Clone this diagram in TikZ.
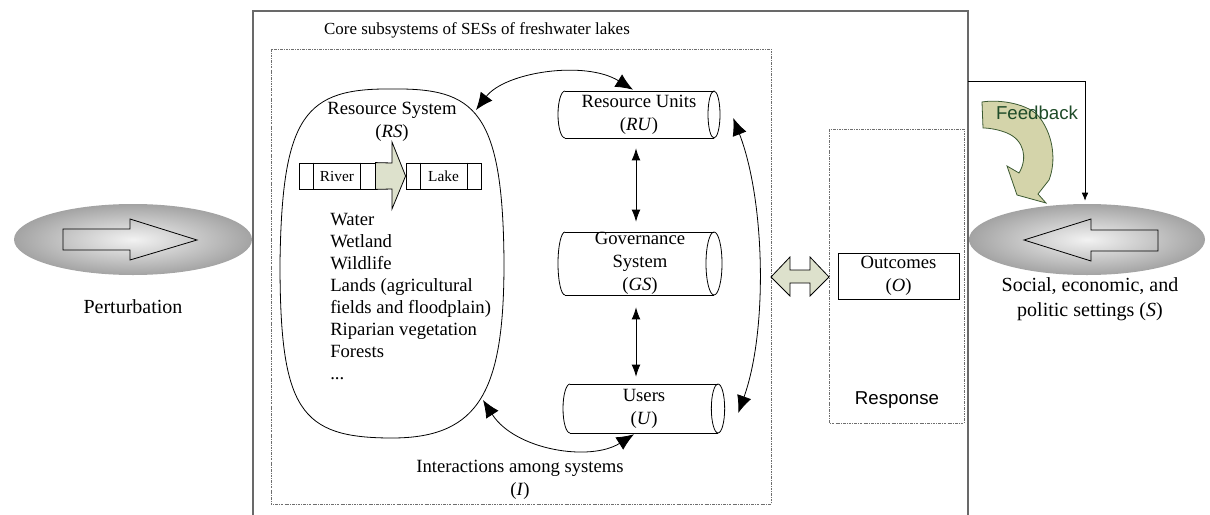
\documentclass[tikz,border=0pt]{standalone}
\usepackage{fontspec}
\setmainfont{Liberation Serif}
\newfontfamily\arialf{Liberation Sans}
\usetikzlibrary{shapes.geometric,arrows.meta,calc}
\definecolor{arrowgreen}{RGB}{221,225,204}
\definecolor{fbfill}{RGB}{212,212,170}
\definecolor{fbline}{RGB}{60,90,50}
\definecolor{fbtext}{RGB}{30,75,40}
\definecolor{framegray}{RGB}{105,105,105}
\definecolor{dotgray}{RGB}{110,110,110}
\begin{document}
\begin{tikzpicture}[x=0.75pt,y=-0.75pt,
  dotbox/.style={draw=dotgray, line width=0.6pt, dash pattern=on 2pt off 0.8pt on 0.6pt off 0.8pt},
  t14/.style={font=\fontsize{14}{17.25}\selectfont, align=center, inner sep=0pt},
  t15/.style={font=\fontsize{15}{18.75}\selectfont, align=center, inner sep=0pt},
  cylbody/.style={minimum width=#1, inner sep=0pt, font=\fontsize{14}{17.25}\selectfont, align=center},
  outline/.style={draw, line width=0.6pt},
  bigtip/.style={{Latex[length=13pt,width=11pt]}-{Latex[length=13pt,width=11pt]}, line width=0.6pt},
  smalltip/.style={{Latex[length=9pt,width=6.5pt]}-{Latex[length=9pt,width=6.5pt]}, line width=0.6pt},
  settings/.style={ellipse, shade, shading=radial, inner color=black!5, outer color=black!36, minimum width=#1, minimum height=53.25pt, inner sep=0pt},
  flowbox/.style={draw, line width=0.6pt, minimum height=19.5pt, inner sep=0pt, font=\fontsize{11.5}{13}\selectfont}
]
\useasboundingbox (0,0) rectangle (1210,514);
\clip (0,0) rectangle (1210,514);

% outer frame
\draw[framegray, line width=0.9pt] (253,540) |- (968,11) -- (968,540);
\node[font=\fontsize{12.7}{15}\selectfont] (title) at (477,30) {Core subsystems of SESs of freshwater lakes};

% core dotted box
\draw[dotbox] (271,49) rectangle (771,504);

% left ellipse: perturbation
\node[settings=178.5pt] (pert) at (133,239.5) {};
\draw[outline] (63,229) -- (130,229) -- (130,219) -- (197,240) -- (130,260) -- (130,250) -- (63,250) -- cycle;
\node[t15] (pertlab) at (133,307) {Perturbation};

% Resource system outline
\draw[outline] (392,89) .. controls (305,88) and (282,115) .. (280,263)
  .. controls (280,410) and (300,438) .. (392,438)
  .. controls (480,438) and (504,390) .. (504,263)
  .. controls (503,110) and (475,88) .. (392,89) -- cycle;
\node[t14] (rslab) at (392,121.5) {Resource System\\(\textit{RS})};
\coordinate (rsA) at (476,110);
\coordinate (rsB) at (483,400);

% River / Lake
\node[flowbox, minimum width=57pt] (river) at (337,176) {River};
\draw[line width=0.6pt] ($(river.north west)+(15,0)$) -- ($(river.south west)+(15,0)$)
  ($(river.north east)+(-15,0)$) -- ($(river.south east)+(-15,0)$);
\node[flowbox, minimum width=56.25pt] (lake) at (443.5,176) {Lake};
\draw[line width=0.6pt] ($(lake.north west)+(15,0)$) -- ($(lake.south west)+(15,0)$)
  ($(lake.north east)+(-14,0)$) -- ($(lake.south east)+(-14,0)$);
\draw[outline, fill=arrowgreen] (river.north east) -- (392,163) -- (392,142) -- (lake.west) -- (392,209) -- (392,189) -- (river.south east) -- cycle;

\node[t14, align=left, anchor=north west, font=\fontsize{14}{16.5}\selectfont] (rslist) at (330,213)
  {Water\\Wetland\\Wildlife\\Lands (agricultural\\fields and floodplain)\\Riparian vegetation\\Forests\\...};

% cylinders
\node[cylbody=121.5pt, minimum height=35.25pt] (ru) at (639,114.5) {Resource Units\\(\textit{RU})};
\draw[line width=0.6pt] (565,91) -- (714,91) (565,138) -- (714,138);
\draw[line width=0.6pt] (565,91) arc[start angle=90, end angle=270, x radius=5.25pt, y radius=17.625pt];
\draw[line width=0.6pt] (714,114.5) ellipse[x radius=4.5pt, y radius=17.625pt];

\node[cylbody=123pt, minimum height=47.25pt] (gs) at (640,263.5) {Governance\\System\\(\textit{GS})};
\draw[line width=0.6pt] (565,232) -- (714,232) (565,295) -- (714,295);
\draw[line width=0.6pt] (565,232) arc[start angle=90, end angle=270, x radius=5.25pt, y radius=23.625pt];
\draw[line width=0.6pt] (714,263.5) ellipse[x radius=6pt, y radius=23.625pt];

\node[cylbody=121.5pt, minimum height=36.75pt] (us) at (644,408.5) {Users\\(\textit{U})};
\draw[line width=0.6pt] (570,384) -- (718,384) (570,433) -- (718,433);
\draw[line width=0.6pt] (570,384) arc[start angle=90, end angle=270, x radius=5.25pt, y radius=18.375pt];
\draw[line width=0.6pt] (718,408.5) ellipse[x radius=5pt, y radius=18.375pt];

% vertical arrows
\coordinate (ax) at (636,0);
\draw[smalltip] ($(ru.south -| ax)+(0,10)$) -- ($(gs.north -| ax)+(0,-10)$);
\draw[smalltip] ($(gs.south -| ax)+(0,12)$) -- ($(us.north -| ax)+(0,-7)$);

% curved interaction arrows
\draw[bigtip] (rsA) .. controls (505,72) and (585,60) .. ($(ru.north)+(-6,-1)$);
\draw[bigtip] (rsB) .. controls (515,450) and (590,462) .. ($(us.south)+(-10,1)$);
\draw[bigtip] ($(ru.east)+(13,3.5)$) .. controls (765,200) and (768,330) .. ($(us.east)+(13,4.5)$);

\node[t14] (inter) at (520,479.5) {Interactions among systems\\(\textit{I})};

% response
\draw[dotbox] (829,129) rectangle (964,423);
\node[draw, line width=0.6pt, minimum width=90.75pt, minimum height=34.5pt, t14] (out) at (898.5,276) {Outcomes\\(\textit{O})};
\node[font=\arialf\fontsize{14}{16}\selectfont, inner sep=0pt] (resp) at (897,400) {Response};

% double green arrow
\draw[outline, fill=arrowgreen] (771,277) -- (790,257) -- (790,270) -- (810,270) -- (810,257) -- (829,277)
  -- (810,296) -- (810,283) -- (790,283) -- (790,296) -- cycle;

% right ellipse: settings
\node[settings=177pt] (sset) at (1087,239.5) {};
\draw[outline] (1158,230) -- (1091,230) -- (1091,219) -- (1024,240) -- (1091,261) -- (1091,251) -- (1158,251) -- cycle;
\node[t15] (ssetlab) at (1090,299.5) {Social, economic, and\\politic settings (\textit{S})};

% feedback
\coordinate (fbs) at (968,81);
\draw[line width=0.6pt, -{Latex[length=6pt,width=5pt]}] (fbs) -| ($(sset.north)+(-2,-3)$);
\draw[draw=fbline, line width=0.6pt, fill=fbfill] (982,102) .. controls (1000,99) and (1030,104) .. (1040,118)
  .. controls (1054,137) and (1056,162) .. (1049,180) -- (1038,194) -- (1046,203) -- (1017,195) -- (1007,166)
  -- (1019,173) .. controls (1028,158) and (1024,140) .. (1007,133) .. controls (1000,130) and (990,128) .. (983,128) -- cycle;
\node[font=\arialf\fontsize{14}{16}\selectfont, text=fbtext, inner sep=0pt] (fblab) at (1037,113) {Feedback};
\end{tikzpicture}
\end{document}
